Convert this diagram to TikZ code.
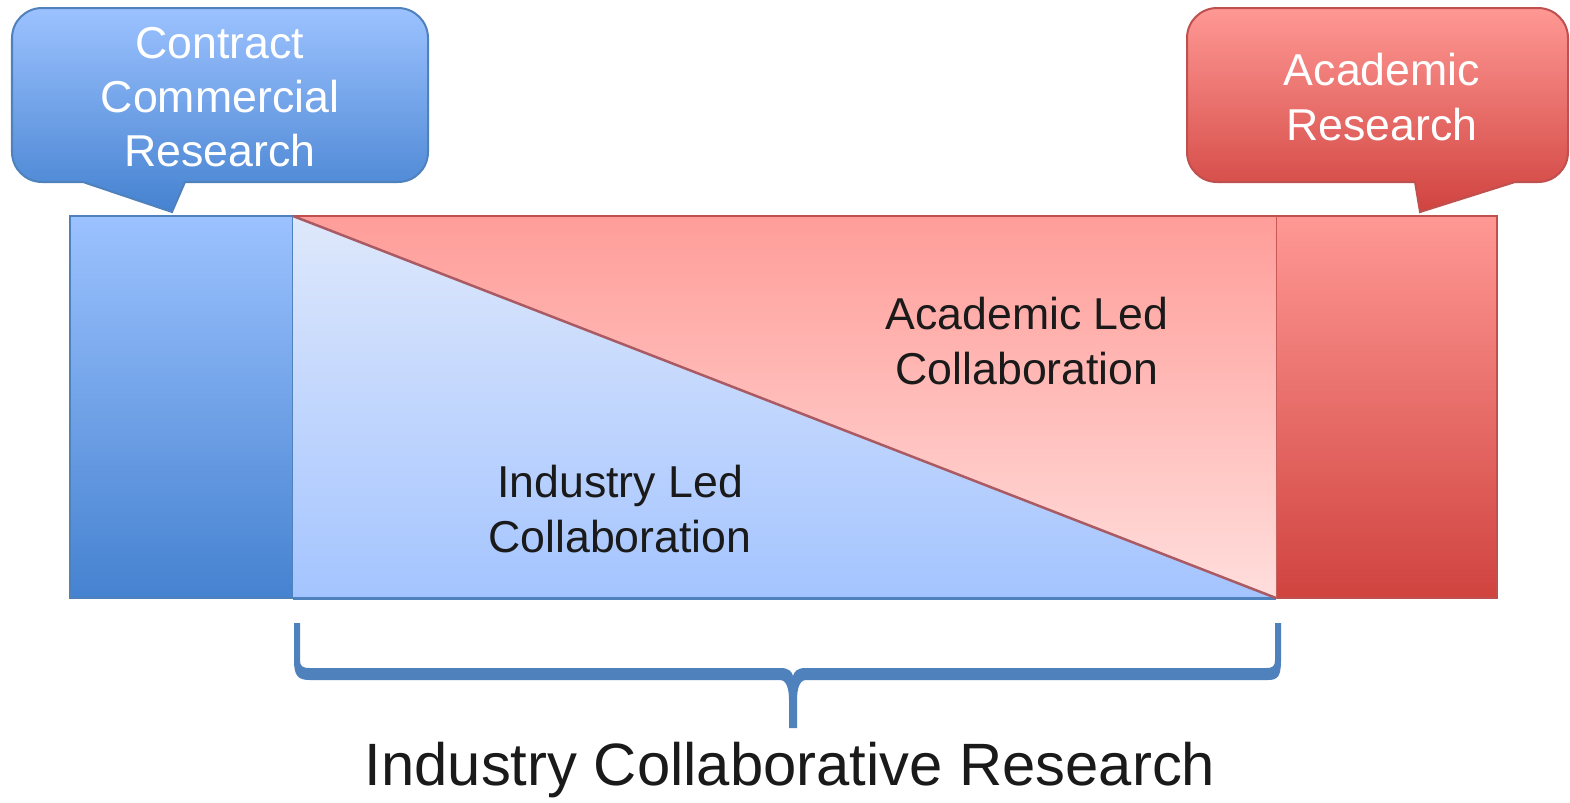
\documentclass[tikz,border=0pt]{standalone}
\usepackage{fontspec}
\setmainfont{Liberation Sans}
\definecolor{bluetop}{HTML}{9CC2FF}
\definecolor{bluebot}{HTML}{4582D0}
\definecolor{blueline}{HTML}{4F81BD}
\definecolor{ltbluetop}{HTML}{DEE8FB}
\definecolor{ltbluebot}{HTML}{A4C4FF}
\definecolor{redtop}{HTML}{FF9894}
\definecolor{redbot}{HTML}{D0433F}
\definecolor{redline}{HTML}{C0504D}
\definecolor{pinktop}{HTML}{FF9D99}
\definecolor{pinkbot}{HTML}{FFDEDC}
\definecolor{txt}{HTML}{1A1A1A}
\tikzset{
  calltxt/.style={text=white, align=center, font=\fontsize{12.7}{15.4}\selectfont},
  midtxt/.style={text=txt, align=center, font=\fontsize{12.7}{15.4}\selectfont},
  bigtxt/.style={text=txt, font=\fontsize{17}{20}\selectfont},
  bluebar/.style={top color=bluetop, bottom color=bluebot, draw=blueline, line width=0.02cm},
  redbar/.style={top color=redtop, bottom color=redbot, draw=redline, line width=0.02cm},
}
\begin{document}
\begin{tikzpicture}[x=0.01cm, y=-0.01cm]
\useasboundingbox (0,0) rectangle (1570,802);
% left callout
\shade[bluebar] (300,182) -- (185,182) -- (172,212) -- (83,182)
  [rounded corners=0.3cm] -- (12,182) -- (12,8) -- (428,8) -- (428,182) -- cycle;
\node[calltxt] (ccr) at (220,97) {Contract\\Commercial\\Research};
% right callout
\shade[redbar] (1300,182) -- (1415,182) -- (1420,212) -- (1515,182)
  [rounded corners=0.3cm] -- (1568,182) -- (1568,8) -- (1187,8) -- (1187,182) -- cycle;
\node[calltxt] (ar) at (1382,97) {Academic\\Research};
% bars
\shade[bluebar] (70,216) rectangle (293,598);
\shade[redbar] (1276,216) rectangle (1497,598);
% triangles
\shade[top color=ltbluetop, bottom color=ltbluebot] (293,216) -- (1276,598) -- (293,598) -- cycle;
\shade[top color=pinktop, bottom color=pinkbot] (293,216) -- (1276,216) -- (1276,598) -- cycle;
\draw[redline, line width=0.02cm] (293,216) -- (1276,216);
\draw[blueline, line width=0.03cm] (293,598) -- (1276,598);
\draw[redline!80!blueline, line width=0.025cm] (293,216) -- (1276,598);
\node[midtxt] (alc) at (1027,341) {Academic Led\\Collaboration};
\node[midtxt] (ilc) at (620,509) {Industry Led\\Collaboration};
% brace
\fill[blueline] (294,623) -- (294,660) .. controls (294,676) and (298,680) .. (310,680)
  -- (780,680) .. controls (787,680) and (789,690) .. (789,700) -- (789,728) -- (797,728) -- (797,700)
  .. controls (797,690) and (799,680) .. (806,680) -- (1268,680)
  .. controls (1278,680) and (1281,676) .. (1281,660) -- (1281,623) -- (1275,623) -- (1275,660)
  .. controls (1275,666) and (1273,668) .. (1266,668) -- (805,668)
  .. controls (797,668) and (794,672) .. (793,676)
  .. controls (792,672) and (789,668) .. (781,668) -- (310,668)
  .. controls (302,668) and (300,666) .. (300,660) -- (300,623) -- cycle;
\node[bigtxt] (icr) at (790,770) {Industry Collaborative Research};
\end{tikzpicture}
\end{document}
